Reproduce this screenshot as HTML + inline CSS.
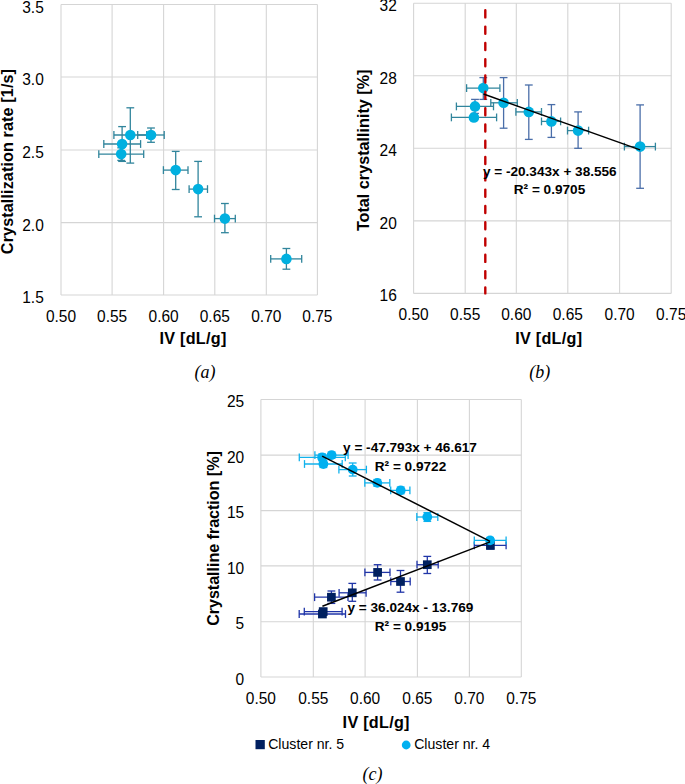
<!DOCTYPE html>
<html><head><meta charset="utf-8"><title>Figure</title>
<style>
html,body{margin:0;padding:0;background:#fff;}
body{width:685px;height:784px;overflow:hidden;font-family:"Liberation Sans", sans-serif;}
svg{display:block;}
</style></head>
<body>
<svg width="685" height="784" viewBox="0 0 685 784">
<rect x="0" y="0" width="685" height="784" fill="#fff"/>
<line x1="61.00" y1="4.50" x2="61.00" y2="295.00" stroke="#d5d5d5" stroke-width="1.1" />
<line x1="112.10" y1="4.50" x2="112.10" y2="295.00" stroke="#d5d5d5" stroke-width="1.1" />
<line x1="163.60" y1="4.50" x2="163.60" y2="295.00" stroke="#d5d5d5" stroke-width="1.1" />
<line x1="214.80" y1="4.50" x2="214.80" y2="295.00" stroke="#d5d5d5" stroke-width="1.1" />
<line x1="266.30" y1="4.50" x2="266.30" y2="295.00" stroke="#d5d5d5" stroke-width="1.1" />
<line x1="317.40" y1="4.50" x2="317.40" y2="295.00" stroke="#d5d5d5" stroke-width="1.1" />
<line x1="61.00" y1="4.50" x2="317.40" y2="4.50" stroke="#d5d5d5" stroke-width="1.1" />
<line x1="61.00" y1="77.00" x2="317.40" y2="77.00" stroke="#d5d5d5" stroke-width="1.1" />
<line x1="61.00" y1="150.00" x2="317.40" y2="150.00" stroke="#d5d5d5" stroke-width="1.1" />
<line x1="61.00" y1="222.60" x2="317.40" y2="222.60" stroke="#d5d5d5" stroke-width="1.1" />
<line x1="61.00" y1="295.00" x2="317.40" y2="295.00" stroke="#d5d5d5" stroke-width="1.1" />
<text transform="translate(43.80,12.50) scale(1,1.06)" x="0" y="0" font-family='"Liberation Sans", sans-serif' font-size="15.5" text-anchor="end">3.5</text>
<text transform="translate(43.80,85.00) scale(1,1.06)" x="0" y="0" font-family='"Liberation Sans", sans-serif' font-size="15.5" text-anchor="end">3.0</text>
<text transform="translate(43.80,158.00) scale(1,1.06)" x="0" y="0" font-family='"Liberation Sans", sans-serif' font-size="15.5" text-anchor="end">2.5</text>
<text transform="translate(43.80,230.60) scale(1,1.06)" x="0" y="0" font-family='"Liberation Sans", sans-serif' font-size="15.5" text-anchor="end">2.0</text>
<text transform="translate(43.80,303.00) scale(1,1.06)" x="0" y="0" font-family='"Liberation Sans", sans-serif' font-size="15.5" text-anchor="end">1.5</text>
<text transform="translate(61.00,321.70) scale(1,1.06)" x="0" y="0" font-family='"Liberation Sans", sans-serif' font-size="15.5" text-anchor="middle">0.50</text>
<text transform="translate(112.10,321.70) scale(1,1.06)" x="0" y="0" font-family='"Liberation Sans", sans-serif' font-size="15.5" text-anchor="middle">0.55</text>
<text transform="translate(163.60,321.70) scale(1,1.06)" x="0" y="0" font-family='"Liberation Sans", sans-serif' font-size="15.5" text-anchor="middle">0.60</text>
<text transform="translate(214.80,321.70) scale(1,1.06)" x="0" y="0" font-family='"Liberation Sans", sans-serif' font-size="15.5" text-anchor="middle">0.65</text>
<text transform="translate(266.30,321.70) scale(1,1.06)" x="0" y="0" font-family='"Liberation Sans", sans-serif' font-size="15.5" text-anchor="middle">0.70</text>
<text transform="translate(317.40,321.70) scale(1,1.06)" x="0" y="0" font-family='"Liberation Sans", sans-serif' font-size="15.5" text-anchor="middle">0.75</text>
<text transform="translate(13.30,161.60) rotate(-90)" x="0.05" y="0" font-family='"Liberation Sans", sans-serif' font-size="16.2" font-weight="bold" text-anchor="middle" letter-spacing="0.1">Crystallization rate [1/s]</text>
<text x="193.00" y="343.50" font-family='"Liberation Sans", sans-serif' font-size="16.2" font-weight="bold" font-style="normal" text-anchor="middle" letter-spacing="0.27">IV [dL/g]</text>
<text x="204.90" y="378.40" font-family='"Liberation Serif", serif' font-size="18" font-weight="normal" font-style="italic" text-anchor="middle" >(a)</text>
<line x1="130.30" y1="107.80" x2="130.30" y2="163.10" stroke="#31859c" stroke-width="1.3" />
<line x1="126.40" y1="107.80" x2="134.20" y2="107.80" stroke="#31859c" stroke-width="1.3" />
<line x1="126.40" y1="163.10" x2="134.20" y2="163.10" stroke="#31859c" stroke-width="1.3" />
<line x1="113.90" y1="135.00" x2="146.70" y2="135.00" stroke="#31859c" stroke-width="1.3" />
<line x1="113.90" y1="131.10" x2="113.90" y2="138.90" stroke="#31859c" stroke-width="1.3" />
<line x1="146.70" y1="131.10" x2="146.70" y2="138.90" stroke="#31859c" stroke-width="1.3" />
<line x1="151.00" y1="128.00" x2="151.00" y2="142.30" stroke="#31859c" stroke-width="1.3" />
<line x1="147.10" y1="128.00" x2="154.90" y2="128.00" stroke="#31859c" stroke-width="1.3" />
<line x1="147.10" y1="142.30" x2="154.90" y2="142.30" stroke="#31859c" stroke-width="1.3" />
<line x1="137.70" y1="135.00" x2="164.20" y2="135.00" stroke="#31859c" stroke-width="1.3" />
<line x1="137.70" y1="131.10" x2="137.70" y2="138.90" stroke="#31859c" stroke-width="1.3" />
<line x1="164.20" y1="131.10" x2="164.20" y2="138.90" stroke="#31859c" stroke-width="1.3" />
<line x1="122.10" y1="126.60" x2="122.10" y2="161.40" stroke="#31859c" stroke-width="1.3" />
<line x1="118.20" y1="126.60" x2="126.00" y2="126.60" stroke="#31859c" stroke-width="1.3" />
<line x1="118.20" y1="161.40" x2="126.00" y2="161.40" stroke="#31859c" stroke-width="1.3" />
<line x1="103.80" y1="144.00" x2="140.60" y2="144.00" stroke="#31859c" stroke-width="1.3" />
<line x1="103.80" y1="140.10" x2="103.80" y2="147.90" stroke="#31859c" stroke-width="1.3" />
<line x1="140.60" y1="140.10" x2="140.60" y2="147.90" stroke="#31859c" stroke-width="1.3" />
<line x1="121.20" y1="147.80" x2="121.20" y2="160.40" stroke="#31859c" stroke-width="1.3" />
<line x1="117.30" y1="147.80" x2="125.10" y2="147.80" stroke="#31859c" stroke-width="1.3" />
<line x1="117.30" y1="160.40" x2="125.10" y2="160.40" stroke="#31859c" stroke-width="1.3" />
<line x1="98.80" y1="154.10" x2="143.70" y2="154.10" stroke="#31859c" stroke-width="1.3" />
<line x1="98.80" y1="150.20" x2="98.80" y2="158.00" stroke="#31859c" stroke-width="1.3" />
<line x1="143.70" y1="150.20" x2="143.70" y2="158.00" stroke="#31859c" stroke-width="1.3" />
<line x1="175.70" y1="151.40" x2="175.70" y2="189.50" stroke="#31859c" stroke-width="1.3" />
<line x1="171.80" y1="151.40" x2="179.60" y2="151.40" stroke="#31859c" stroke-width="1.3" />
<line x1="171.80" y1="189.50" x2="179.60" y2="189.50" stroke="#31859c" stroke-width="1.3" />
<line x1="163.40" y1="170.10" x2="188.00" y2="170.10" stroke="#31859c" stroke-width="1.3" />
<line x1="163.40" y1="166.20" x2="163.40" y2="174.00" stroke="#31859c" stroke-width="1.3" />
<line x1="188.00" y1="166.20" x2="188.00" y2="174.00" stroke="#31859c" stroke-width="1.3" />
<line x1="198.10" y1="161.40" x2="198.10" y2="216.80" stroke="#31859c" stroke-width="1.3" />
<line x1="194.20" y1="161.40" x2="202.00" y2="161.40" stroke="#31859c" stroke-width="1.3" />
<line x1="194.20" y1="216.80" x2="202.00" y2="216.80" stroke="#31859c" stroke-width="1.3" />
<line x1="189.10" y1="189.10" x2="207.50" y2="189.10" stroke="#31859c" stroke-width="1.3" />
<line x1="189.10" y1="185.20" x2="189.10" y2="193.00" stroke="#31859c" stroke-width="1.3" />
<line x1="207.50" y1="185.20" x2="207.50" y2="193.00" stroke="#31859c" stroke-width="1.3" />
<line x1="224.90" y1="203.50" x2="224.90" y2="232.70" stroke="#31859c" stroke-width="1.3" />
<line x1="221.00" y1="203.50" x2="228.80" y2="203.50" stroke="#31859c" stroke-width="1.3" />
<line x1="221.00" y1="232.70" x2="228.80" y2="232.70" stroke="#31859c" stroke-width="1.3" />
<line x1="214.50" y1="218.60" x2="235.30" y2="218.60" stroke="#31859c" stroke-width="1.3" />
<line x1="214.50" y1="214.70" x2="214.50" y2="222.50" stroke="#31859c" stroke-width="1.3" />
<line x1="235.30" y1="214.70" x2="235.30" y2="222.50" stroke="#31859c" stroke-width="1.3" />
<line x1="286.40" y1="248.50" x2="286.40" y2="269.20" stroke="#31859c" stroke-width="1.3" />
<line x1="282.50" y1="248.50" x2="290.30" y2="248.50" stroke="#31859c" stroke-width="1.3" />
<line x1="282.50" y1="269.20" x2="290.30" y2="269.20" stroke="#31859c" stroke-width="1.3" />
<line x1="270.70" y1="258.90" x2="301.70" y2="258.90" stroke="#31859c" stroke-width="1.3" />
<line x1="270.70" y1="255.00" x2="270.70" y2="262.80" stroke="#31859c" stroke-width="1.3" />
<line x1="301.70" y1="255.00" x2="301.70" y2="262.80" stroke="#31859c" stroke-width="1.3" />
<circle cx="130.30" cy="135.00" r="5.3" fill="#00b0e0"/>
<circle cx="151.00" cy="135.00" r="5.3" fill="#00b0e0"/>
<circle cx="122.10" cy="144.00" r="5.3" fill="#00b0e0"/>
<circle cx="121.20" cy="154.10" r="5.3" fill="#00b0e0"/>
<circle cx="175.70" cy="170.10" r="5.3" fill="#00b0e0"/>
<circle cx="198.10" cy="189.10" r="5.3" fill="#00b0e0"/>
<circle cx="224.90" cy="218.60" r="5.3" fill="#00b0e0"/>
<circle cx="286.40" cy="258.90" r="5.3" fill="#00b0e0"/>
<line x1="413.60" y1="3.20" x2="413.60" y2="293.40" stroke="#d5d5d5" stroke-width="1.1" />
<line x1="465.20" y1="3.20" x2="465.20" y2="293.40" stroke="#d5d5d5" stroke-width="1.1" />
<line x1="516.30" y1="3.20" x2="516.30" y2="293.40" stroke="#d5d5d5" stroke-width="1.1" />
<line x1="567.80" y1="3.20" x2="567.80" y2="293.40" stroke="#d5d5d5" stroke-width="1.1" />
<line x1="619.60" y1="3.20" x2="619.60" y2="293.40" stroke="#d5d5d5" stroke-width="1.1" />
<line x1="671.20" y1="3.20" x2="671.20" y2="293.40" stroke="#d5d5d5" stroke-width="1.1" />
<line x1="413.60" y1="3.20" x2="671.20" y2="3.20" stroke="#d5d5d5" stroke-width="1.1" />
<line x1="413.60" y1="75.80" x2="671.20" y2="75.80" stroke="#d5d5d5" stroke-width="1.1" />
<line x1="413.60" y1="148.20" x2="671.20" y2="148.20" stroke="#d5d5d5" stroke-width="1.1" />
<line x1="413.60" y1="220.90" x2="671.20" y2="220.90" stroke="#d5d5d5" stroke-width="1.1" />
<line x1="413.60" y1="293.40" x2="671.20" y2="293.40" stroke="#d5d5d5" stroke-width="1.1" />
<text transform="translate(396.80,11.00) scale(1,1.06)" x="0" y="0" font-family='"Liberation Sans", sans-serif' font-size="15.5" text-anchor="end">32</text>
<text transform="translate(396.80,83.60) scale(1,1.06)" x="0" y="0" font-family='"Liberation Sans", sans-serif' font-size="15.5" text-anchor="end">28</text>
<text transform="translate(396.80,156.00) scale(1,1.06)" x="0" y="0" font-family='"Liberation Sans", sans-serif' font-size="15.5" text-anchor="end">24</text>
<text transform="translate(396.80,228.70) scale(1,1.06)" x="0" y="0" font-family='"Liberation Sans", sans-serif' font-size="15.5" text-anchor="end">20</text>
<text transform="translate(396.80,301.20) scale(1,1.06)" x="0" y="0" font-family='"Liberation Sans", sans-serif' font-size="15.5" text-anchor="end">16</text>
<text transform="translate(413.60,320.20) scale(1,1.06)" x="0" y="0" font-family='"Liberation Sans", sans-serif' font-size="15.5" text-anchor="middle">0.50</text>
<text transform="translate(465.20,320.20) scale(1,1.06)" x="0" y="0" font-family='"Liberation Sans", sans-serif' font-size="15.5" text-anchor="middle">0.55</text>
<text transform="translate(516.30,320.20) scale(1,1.06)" x="0" y="0" font-family='"Liberation Sans", sans-serif' font-size="15.5" text-anchor="middle">0.60</text>
<text transform="translate(567.80,320.20) scale(1,1.06)" x="0" y="0" font-family='"Liberation Sans", sans-serif' font-size="15.5" text-anchor="middle">0.65</text>
<text transform="translate(619.60,320.20) scale(1,1.06)" x="0" y="0" font-family='"Liberation Sans", sans-serif' font-size="15.5" text-anchor="middle">0.70</text>
<text transform="translate(671.20,320.20) scale(1,1.06)" x="0" y="0" font-family='"Liberation Sans", sans-serif' font-size="15.5" text-anchor="middle">0.75</text>
<text transform="translate(368.90,150.30) rotate(-90)" x="0.00" y="0" font-family='"Liberation Sans", sans-serif' font-size="16.2" font-weight="bold" text-anchor="middle" letter-spacing="0">Total crystallinity [%]</text>
<text x="548.75" y="343.60" font-family='"Liberation Sans", sans-serif' font-size="16.2" font-weight="bold" font-style="normal" text-anchor="middle" letter-spacing="0.27">IV [dL/g]</text>
<text x="539.70" y="378.40" font-family='"Liberation Serif", serif' font-size="18" font-weight="normal" font-style="italic" text-anchor="middle" >(b)</text>
<line x1="466.60" y1="88.10" x2="499.90" y2="88.10" stroke="#31859c" stroke-width="1.3" />
<line x1="466.60" y1="84.20" x2="466.60" y2="92.00" stroke="#31859c" stroke-width="1.3" />
<line x1="499.90" y1="84.20" x2="499.90" y2="92.00" stroke="#31859c" stroke-width="1.3" />
<line x1="490.80" y1="102.80" x2="517.30" y2="102.80" stroke="#31859c" stroke-width="1.3" />
<line x1="490.80" y1="98.90" x2="490.80" y2="106.70" stroke="#31859c" stroke-width="1.3" />
<line x1="517.30" y1="98.90" x2="517.30" y2="106.70" stroke="#31859c" stroke-width="1.3" />
<line x1="456.40" y1="106.40" x2="493.50" y2="106.40" stroke="#31859c" stroke-width="1.3" />
<line x1="456.40" y1="102.50" x2="456.40" y2="110.30" stroke="#31859c" stroke-width="1.3" />
<line x1="493.50" y1="102.50" x2="493.50" y2="110.30" stroke="#31859c" stroke-width="1.3" />
<line x1="451.40" y1="117.40" x2="496.60" y2="117.40" stroke="#31859c" stroke-width="1.3" />
<line x1="451.40" y1="113.50" x2="451.40" y2="121.30" stroke="#31859c" stroke-width="1.3" />
<line x1="496.60" y1="113.50" x2="496.60" y2="121.30" stroke="#31859c" stroke-width="1.3" />
<line x1="515.90" y1="111.90" x2="541.50" y2="111.90" stroke="#31859c" stroke-width="1.3" />
<line x1="515.90" y1="108.00" x2="515.90" y2="115.80" stroke="#31859c" stroke-width="1.3" />
<line x1="541.50" y1="108.00" x2="541.50" y2="115.80" stroke="#31859c" stroke-width="1.3" />
<line x1="541.50" y1="121.40" x2="560.60" y2="121.40" stroke="#31859c" stroke-width="1.3" />
<line x1="541.50" y1="117.50" x2="541.50" y2="125.30" stroke="#31859c" stroke-width="1.3" />
<line x1="560.60" y1="117.50" x2="560.60" y2="125.30" stroke="#31859c" stroke-width="1.3" />
<line x1="567.50" y1="130.60" x2="588.60" y2="130.60" stroke="#31859c" stroke-width="1.3" />
<line x1="567.50" y1="126.70" x2="567.50" y2="134.50" stroke="#31859c" stroke-width="1.3" />
<line x1="588.60" y1="126.70" x2="588.60" y2="134.50" stroke="#31859c" stroke-width="1.3" />
<line x1="624.40" y1="146.60" x2="655.40" y2="146.60" stroke="#31859c" stroke-width="1.3" />
<line x1="624.40" y1="142.70" x2="624.40" y2="150.50" stroke="#31859c" stroke-width="1.3" />
<line x1="655.40" y1="142.70" x2="655.40" y2="150.50" stroke="#31859c" stroke-width="1.3" />
<line x1="483.30" y1="77.60" x2="483.30" y2="99.40" stroke="#4a6ea9" stroke-width="1.3" />
<line x1="479.40" y1="77.60" x2="487.20" y2="77.60" stroke="#4a6ea9" stroke-width="1.3" />
<line x1="479.40" y1="99.40" x2="487.20" y2="99.40" stroke="#4a6ea9" stroke-width="1.3" />
<line x1="503.60" y1="77.60" x2="503.60" y2="128.20" stroke="#4a6ea9" stroke-width="1.3" />
<line x1="499.70" y1="77.60" x2="507.50" y2="77.60" stroke="#4a6ea9" stroke-width="1.3" />
<line x1="499.70" y1="128.20" x2="507.50" y2="128.20" stroke="#4a6ea9" stroke-width="1.3" />
<line x1="475.00" y1="99.40" x2="475.00" y2="113.40" stroke="#4a6ea9" stroke-width="1.3" />
<line x1="471.10" y1="99.40" x2="478.90" y2="99.40" stroke="#4a6ea9" stroke-width="1.3" />
<line x1="471.10" y1="113.40" x2="478.90" y2="113.40" stroke="#4a6ea9" stroke-width="1.3" />
<line x1="473.90" y1="114.40" x2="473.90" y2="120.40" stroke="#4a6ea9" stroke-width="1.3" />
<line x1="470.00" y1="114.40" x2="477.80" y2="114.40" stroke="#4a6ea9" stroke-width="1.3" />
<line x1="470.00" y1="120.40" x2="477.80" y2="120.40" stroke="#4a6ea9" stroke-width="1.3" />
<line x1="528.80" y1="85.00" x2="528.80" y2="139.40" stroke="#4a6ea9" stroke-width="1.3" />
<line x1="524.90" y1="85.00" x2="532.70" y2="85.00" stroke="#4a6ea9" stroke-width="1.3" />
<line x1="524.90" y1="139.40" x2="532.70" y2="139.40" stroke="#4a6ea9" stroke-width="1.3" />
<line x1="551.40" y1="104.60" x2="551.40" y2="137.40" stroke="#4a6ea9" stroke-width="1.3" />
<line x1="547.50" y1="104.60" x2="555.30" y2="104.60" stroke="#4a6ea9" stroke-width="1.3" />
<line x1="547.50" y1="137.40" x2="555.30" y2="137.40" stroke="#4a6ea9" stroke-width="1.3" />
<line x1="578.10" y1="111.90" x2="578.10" y2="148.30" stroke="#4a6ea9" stroke-width="1.3" />
<line x1="574.20" y1="111.90" x2="582.00" y2="111.90" stroke="#4a6ea9" stroke-width="1.3" />
<line x1="574.20" y1="148.30" x2="582.00" y2="148.30" stroke="#4a6ea9" stroke-width="1.3" />
<line x1="640.10" y1="104.90" x2="640.10" y2="188.30" stroke="#4a6ea9" stroke-width="1.3" />
<line x1="636.20" y1="104.90" x2="644.00" y2="104.90" stroke="#4a6ea9" stroke-width="1.3" />
<line x1="636.20" y1="188.30" x2="644.00" y2="188.30" stroke="#4a6ea9" stroke-width="1.3" />
<circle cx="483.30" cy="88.10" r="5.3" fill="#00b0e0"/>
<circle cx="503.60" cy="102.80" r="5.3" fill="#00b0e0"/>
<circle cx="475.00" cy="106.40" r="5.3" fill="#00b0e0"/>
<circle cx="473.90" cy="117.40" r="5.3" fill="#00b0e0"/>
<circle cx="528.80" cy="111.90" r="5.3" fill="#00b0e0"/>
<circle cx="551.40" cy="121.40" r="5.3" fill="#00b0e0"/>
<circle cx="578.10" cy="130.60" r="5.3" fill="#00b0e0"/>
<circle cx="640.10" cy="146.60" r="5.3" fill="#00b0e0"/>
<line x1="485.30" y1="10.30" x2="485.30" y2="293.40" stroke="#c00000" stroke-width="2.4" stroke-linecap="round" stroke-dasharray="7.1 9.2"/>
<line x1="483.50" y1="94.00" x2="640.10" y2="149.90" stroke="#000" stroke-width="1.5" />
<text x="549.80" y="175.80" font-family='"Liberation Sans", sans-serif' font-size="13.6" font-weight="bold" font-style="normal" text-anchor="middle" >y = -20.343x + 38.556</text>
<text x="549.50" y="194.40" font-family='"Liberation Sans", sans-serif' font-size="13.6" font-weight="bold" font-style="normal" text-anchor="middle" >R² = 0.9705</text>
<line x1="260.90" y1="399.50" x2="260.90" y2="677.00" stroke="#d5d5d5" stroke-width="1.1" />
<line x1="313.30" y1="399.50" x2="313.30" y2="677.00" stroke="#d5d5d5" stroke-width="1.1" />
<line x1="365.10" y1="399.50" x2="365.10" y2="677.00" stroke="#d5d5d5" stroke-width="1.1" />
<line x1="417.40" y1="399.50" x2="417.40" y2="677.00" stroke="#d5d5d5" stroke-width="1.1" />
<line x1="469.40" y1="399.50" x2="469.40" y2="677.00" stroke="#d5d5d5" stroke-width="1.1" />
<line x1="521.30" y1="399.50" x2="521.30" y2="677.00" stroke="#d5d5d5" stroke-width="1.1" />
<line x1="260.90" y1="399.50" x2="521.30" y2="399.50" stroke="#d5d5d5" stroke-width="1.1" />
<line x1="260.90" y1="455.10" x2="521.30" y2="455.10" stroke="#d5d5d5" stroke-width="1.1" />
<line x1="260.90" y1="510.60" x2="521.30" y2="510.60" stroke="#d5d5d5" stroke-width="1.1" />
<line x1="260.90" y1="565.90" x2="521.30" y2="565.90" stroke="#d5d5d5" stroke-width="1.1" />
<line x1="260.90" y1="621.80" x2="521.30" y2="621.80" stroke="#d5d5d5" stroke-width="1.1" />
<line x1="260.90" y1="677.00" x2="521.30" y2="677.00" stroke="#d5d5d5" stroke-width="1.1" />
<text transform="translate(244.20,407.10) scale(1,1.06)" x="0" y="0" font-family='"Liberation Sans", sans-serif' font-size="15.5" text-anchor="end">25</text>
<text transform="translate(244.20,462.70) scale(1,1.06)" x="0" y="0" font-family='"Liberation Sans", sans-serif' font-size="15.5" text-anchor="end">20</text>
<text transform="translate(244.20,518.20) scale(1,1.06)" x="0" y="0" font-family='"Liberation Sans", sans-serif' font-size="15.5" text-anchor="end">15</text>
<text transform="translate(244.20,573.50) scale(1,1.06)" x="0" y="0" font-family='"Liberation Sans", sans-serif' font-size="15.5" text-anchor="end">10</text>
<text transform="translate(244.20,629.40) scale(1,1.06)" x="0" y="0" font-family='"Liberation Sans", sans-serif' font-size="15.5" text-anchor="end">5</text>
<text transform="translate(244.20,684.60) scale(1,1.06)" x="0" y="0" font-family='"Liberation Sans", sans-serif' font-size="15.5" text-anchor="end">0</text>
<text transform="translate(260.90,703.80) scale(1,1.06)" x="0" y="0" font-family='"Liberation Sans", sans-serif' font-size="15.5" text-anchor="middle">0.50</text>
<text transform="translate(313.30,703.80) scale(1,1.06)" x="0" y="0" font-family='"Liberation Sans", sans-serif' font-size="15.5" text-anchor="middle">0.55</text>
<text transform="translate(365.10,703.80) scale(1,1.06)" x="0" y="0" font-family='"Liberation Sans", sans-serif' font-size="15.5" text-anchor="middle">0.60</text>
<text transform="translate(417.40,703.80) scale(1,1.06)" x="0" y="0" font-family='"Liberation Sans", sans-serif' font-size="15.5" text-anchor="middle">0.65</text>
<text transform="translate(469.40,703.80) scale(1,1.06)" x="0" y="0" font-family='"Liberation Sans", sans-serif' font-size="15.5" text-anchor="middle">0.70</text>
<text transform="translate(521.30,703.80) scale(1,1.06)" x="0" y="0" font-family='"Liberation Sans", sans-serif' font-size="15.5" text-anchor="middle">0.75</text>
<text transform="translate(218.80,538.50) rotate(-90)" x="-0.04" y="0" font-family='"Liberation Sans", sans-serif' font-size="16.2" font-weight="bold" text-anchor="middle" letter-spacing="-0.07">Crystalline fraction [%]</text>
<text x="376.20" y="728.40" font-family='"Liberation Sans", sans-serif' font-size="16.2" font-weight="bold" font-style="normal" text-anchor="middle" letter-spacing="0.27">IV [dL/g]</text>
<text x="372.50" y="779.60" font-family='"Liberation Serif", serif' font-size="18" font-weight="normal" font-style="italic" text-anchor="middle" >(c)</text>
<line x1="331.40" y1="591.00" x2="331.40" y2="603.40" stroke="#2035a8" stroke-width="1.3" />
<line x1="327.50" y1="591.00" x2="335.30" y2="591.00" stroke="#2035a8" stroke-width="1.3" />
<line x1="327.50" y1="603.40" x2="335.30" y2="603.40" stroke="#2035a8" stroke-width="1.3" />
<line x1="314.60" y1="597.20" x2="348.00" y2="597.20" stroke="#2035a8" stroke-width="1.3" />
<line x1="314.60" y1="593.30" x2="314.60" y2="601.10" stroke="#2035a8" stroke-width="1.3" />
<line x1="348.00" y1="593.30" x2="348.00" y2="601.10" stroke="#2035a8" stroke-width="1.3" />
<line x1="352.30" y1="583.40" x2="352.30" y2="601.30" stroke="#2035a8" stroke-width="1.3" />
<line x1="348.40" y1="583.40" x2="356.20" y2="583.40" stroke="#2035a8" stroke-width="1.3" />
<line x1="348.40" y1="601.30" x2="356.20" y2="601.30" stroke="#2035a8" stroke-width="1.3" />
<line x1="339.10" y1="592.80" x2="366.10" y2="592.80" stroke="#2035a8" stroke-width="1.3" />
<line x1="339.10" y1="588.90" x2="339.10" y2="596.70" stroke="#2035a8" stroke-width="1.3" />
<line x1="366.10" y1="588.90" x2="366.10" y2="596.70" stroke="#2035a8" stroke-width="1.3" />
<line x1="322.40" y1="611.00" x2="322.40" y2="617.00" stroke="#2035a8" stroke-width="1.3" />
<line x1="318.50" y1="611.00" x2="326.30" y2="611.00" stroke="#2035a8" stroke-width="1.3" />
<line x1="318.50" y1="617.00" x2="326.30" y2="617.00" stroke="#2035a8" stroke-width="1.3" />
<line x1="299.20" y1="614.00" x2="345.50" y2="614.00" stroke="#2035a8" stroke-width="1.3" />
<line x1="299.20" y1="610.10" x2="299.20" y2="617.90" stroke="#2035a8" stroke-width="1.3" />
<line x1="345.50" y1="610.10" x2="345.50" y2="617.90" stroke="#2035a8" stroke-width="1.3" />
<line x1="323.20" y1="608.50" x2="323.20" y2="614.50" stroke="#2035a8" stroke-width="1.3" />
<line x1="319.30" y1="608.50" x2="327.10" y2="608.50" stroke="#2035a8" stroke-width="1.3" />
<line x1="319.30" y1="614.50" x2="327.10" y2="614.50" stroke="#2035a8" stroke-width="1.3" />
<line x1="304.30" y1="611.60" x2="342.10" y2="611.60" stroke="#2035a8" stroke-width="1.3" />
<line x1="304.30" y1="607.70" x2="304.30" y2="615.50" stroke="#2035a8" stroke-width="1.3" />
<line x1="342.10" y1="607.70" x2="342.10" y2="615.50" stroke="#2035a8" stroke-width="1.3" />
<line x1="377.60" y1="564.70" x2="377.60" y2="580.00" stroke="#2035a8" stroke-width="1.3" />
<line x1="373.70" y1="564.70" x2="381.50" y2="564.70" stroke="#2035a8" stroke-width="1.3" />
<line x1="373.70" y1="580.00" x2="381.50" y2="580.00" stroke="#2035a8" stroke-width="1.3" />
<line x1="364.90" y1="572.40" x2="390.00" y2="572.40" stroke="#2035a8" stroke-width="1.3" />
<line x1="364.90" y1="568.50" x2="364.90" y2="576.30" stroke="#2035a8" stroke-width="1.3" />
<line x1="390.00" y1="568.50" x2="390.00" y2="576.30" stroke="#2035a8" stroke-width="1.3" />
<line x1="400.50" y1="570.50" x2="400.50" y2="592.20" stroke="#2035a8" stroke-width="1.3" />
<line x1="396.60" y1="570.50" x2="404.40" y2="570.50" stroke="#2035a8" stroke-width="1.3" />
<line x1="396.60" y1="592.20" x2="404.40" y2="592.20" stroke="#2035a8" stroke-width="1.3" />
<line x1="390.80" y1="581.50" x2="410.20" y2="581.50" stroke="#2035a8" stroke-width="1.3" />
<line x1="390.80" y1="577.60" x2="390.80" y2="585.40" stroke="#2035a8" stroke-width="1.3" />
<line x1="410.20" y1="577.60" x2="410.20" y2="585.40" stroke="#2035a8" stroke-width="1.3" />
<line x1="427.30" y1="556.40" x2="427.30" y2="573.50" stroke="#2035a8" stroke-width="1.3" />
<line x1="423.40" y1="556.40" x2="431.20" y2="556.40" stroke="#2035a8" stroke-width="1.3" />
<line x1="423.40" y1="573.50" x2="431.20" y2="573.50" stroke="#2035a8" stroke-width="1.3" />
<line x1="417.00" y1="564.70" x2="438.20" y2="564.70" stroke="#2035a8" stroke-width="1.3" />
<line x1="417.00" y1="560.80" x2="417.00" y2="568.60" stroke="#2035a8" stroke-width="1.3" />
<line x1="438.20" y1="560.80" x2="438.20" y2="568.60" stroke="#2035a8" stroke-width="1.3" />
<line x1="490.40" y1="542.00" x2="490.40" y2="549.00" stroke="#2035a8" stroke-width="1.3" />
<line x1="486.50" y1="542.00" x2="494.30" y2="542.00" stroke="#2035a8" stroke-width="1.3" />
<line x1="486.50" y1="549.00" x2="494.30" y2="549.00" stroke="#2035a8" stroke-width="1.3" />
<line x1="474.30" y1="545.40" x2="506.10" y2="545.40" stroke="#2035a8" stroke-width="1.3" />
<line x1="474.30" y1="541.50" x2="474.30" y2="549.30" stroke="#2035a8" stroke-width="1.3" />
<line x1="506.10" y1="541.50" x2="506.10" y2="549.30" stroke="#2035a8" stroke-width="1.3" />
<rect x="327.05" y="592.85" width="8.7" height="8.7" fill="#002060"/>
<rect x="347.95" y="588.45" width="8.7" height="8.7" fill="#002060"/>
<rect x="318.05" y="609.65" width="8.7" height="8.7" fill="#002060"/>
<rect x="318.85" y="607.25" width="8.7" height="8.7" fill="#002060"/>
<rect x="373.25" y="568.05" width="8.7" height="8.7" fill="#002060"/>
<rect x="396.15" y="577.15" width="8.7" height="8.7" fill="#002060"/>
<rect x="422.95" y="560.35" width="8.7" height="8.7" fill="#002060"/>
<rect x="486.05" y="541.05" width="8.7" height="8.7" fill="#002060"/>
<line x1="331.60" y1="452.00" x2="331.60" y2="458.20" stroke="#12b2ec" stroke-width="1.3" />
<line x1="327.70" y1="452.00" x2="335.50" y2="452.00" stroke="#12b2ec" stroke-width="1.3" />
<line x1="327.70" y1="458.20" x2="335.50" y2="458.20" stroke="#12b2ec" stroke-width="1.3" />
<line x1="314.90" y1="455.10" x2="348.10" y2="455.10" stroke="#12b2ec" stroke-width="1.3" />
<line x1="314.90" y1="451.20" x2="314.90" y2="459.00" stroke="#12b2ec" stroke-width="1.3" />
<line x1="348.10" y1="451.20" x2="348.10" y2="459.00" stroke="#12b2ec" stroke-width="1.3" />
<line x1="322.10" y1="454.00" x2="322.10" y2="460.80" stroke="#12b2ec" stroke-width="1.3" />
<line x1="318.20" y1="454.00" x2="326.00" y2="454.00" stroke="#12b2ec" stroke-width="1.3" />
<line x1="318.20" y1="460.80" x2="326.00" y2="460.80" stroke="#12b2ec" stroke-width="1.3" />
<line x1="299.30" y1="457.40" x2="345.30" y2="457.40" stroke="#12b2ec" stroke-width="1.3" />
<line x1="299.30" y1="453.50" x2="299.30" y2="461.30" stroke="#12b2ec" stroke-width="1.3" />
<line x1="345.30" y1="453.50" x2="345.30" y2="461.30" stroke="#12b2ec" stroke-width="1.3" />
<line x1="323.40" y1="460.50" x2="323.40" y2="467.50" stroke="#12b2ec" stroke-width="1.3" />
<line x1="319.50" y1="460.50" x2="327.30" y2="460.50" stroke="#12b2ec" stroke-width="1.3" />
<line x1="319.50" y1="467.50" x2="327.30" y2="467.50" stroke="#12b2ec" stroke-width="1.3" />
<line x1="304.50" y1="464.00" x2="342.20" y2="464.00" stroke="#12b2ec" stroke-width="1.3" />
<line x1="304.50" y1="460.10" x2="304.50" y2="467.90" stroke="#12b2ec" stroke-width="1.3" />
<line x1="342.20" y1="460.10" x2="342.20" y2="467.90" stroke="#12b2ec" stroke-width="1.3" />
<line x1="352.70" y1="463.00" x2="352.70" y2="476.00" stroke="#12b2ec" stroke-width="1.3" />
<line x1="348.80" y1="463.00" x2="356.60" y2="463.00" stroke="#12b2ec" stroke-width="1.3" />
<line x1="348.80" y1="476.00" x2="356.60" y2="476.00" stroke="#12b2ec" stroke-width="1.3" />
<line x1="338.90" y1="469.60" x2="366.40" y2="469.60" stroke="#12b2ec" stroke-width="1.3" />
<line x1="338.90" y1="465.70" x2="338.90" y2="473.50" stroke="#12b2ec" stroke-width="1.3" />
<line x1="366.40" y1="465.70" x2="366.40" y2="473.50" stroke="#12b2ec" stroke-width="1.3" />
<line x1="377.30" y1="479.50" x2="377.30" y2="486.30" stroke="#12b2ec" stroke-width="1.3" />
<line x1="373.40" y1="479.50" x2="381.20" y2="479.50" stroke="#12b2ec" stroke-width="1.3" />
<line x1="373.40" y1="486.30" x2="381.20" y2="486.30" stroke="#12b2ec" stroke-width="1.3" />
<line x1="364.80" y1="482.90" x2="389.80" y2="482.90" stroke="#12b2ec" stroke-width="1.3" />
<line x1="364.80" y1="479.00" x2="364.80" y2="486.80" stroke="#12b2ec" stroke-width="1.3" />
<line x1="389.80" y1="479.00" x2="389.80" y2="486.80" stroke="#12b2ec" stroke-width="1.3" />
<line x1="400.70" y1="487.00" x2="400.70" y2="493.80" stroke="#12b2ec" stroke-width="1.3" />
<line x1="396.80" y1="487.00" x2="404.60" y2="487.00" stroke="#12b2ec" stroke-width="1.3" />
<line x1="396.80" y1="493.80" x2="404.60" y2="493.80" stroke="#12b2ec" stroke-width="1.3" />
<line x1="390.70" y1="490.40" x2="409.90" y2="490.40" stroke="#12b2ec" stroke-width="1.3" />
<line x1="390.70" y1="486.50" x2="390.70" y2="494.30" stroke="#12b2ec" stroke-width="1.3" />
<line x1="409.90" y1="486.50" x2="409.90" y2="494.30" stroke="#12b2ec" stroke-width="1.3" />
<line x1="427.30" y1="512.60" x2="427.30" y2="521.40" stroke="#12b2ec" stroke-width="1.3" />
<line x1="423.40" y1="512.60" x2="431.20" y2="512.60" stroke="#12b2ec" stroke-width="1.3" />
<line x1="423.40" y1="521.40" x2="431.20" y2="521.40" stroke="#12b2ec" stroke-width="1.3" />
<line x1="416.80" y1="517.00" x2="437.80" y2="517.00" stroke="#12b2ec" stroke-width="1.3" />
<line x1="416.80" y1="513.10" x2="416.80" y2="520.90" stroke="#12b2ec" stroke-width="1.3" />
<line x1="437.80" y1="513.10" x2="437.80" y2="520.90" stroke="#12b2ec" stroke-width="1.3" />
<line x1="490.10" y1="537.50" x2="490.10" y2="543.30" stroke="#12b2ec" stroke-width="1.3" />
<line x1="486.20" y1="537.50" x2="494.00" y2="537.50" stroke="#12b2ec" stroke-width="1.3" />
<line x1="486.20" y1="543.30" x2="494.00" y2="543.30" stroke="#12b2ec" stroke-width="1.3" />
<line x1="474.30" y1="540.40" x2="506.10" y2="540.40" stroke="#12b2ec" stroke-width="1.3" />
<line x1="474.30" y1="536.50" x2="474.30" y2="544.30" stroke="#12b2ec" stroke-width="1.3" />
<line x1="506.10" y1="536.50" x2="506.10" y2="544.30" stroke="#12b2ec" stroke-width="1.3" />
<circle cx="331.60" cy="455.10" r="4.9" fill="#00b0f0"/>
<circle cx="322.10" cy="457.40" r="4.9" fill="#00b0f0"/>
<circle cx="323.40" cy="464.00" r="4.9" fill="#00b0f0"/>
<circle cx="352.70" cy="469.60" r="4.9" fill="#00b0f0"/>
<circle cx="377.30" cy="482.90" r="4.9" fill="#00b0f0"/>
<circle cx="400.70" cy="490.40" r="4.9" fill="#00b0f0"/>
<circle cx="427.30" cy="517.00" r="4.9" fill="#00b0f0"/>
<circle cx="490.10" cy="540.40" r="4.9" fill="#00b0f0"/>
<line x1="322.10" y1="456.10" x2="490.10" y2="541.30" stroke="#000" stroke-width="1.5" />
<line x1="322.40" y1="606.20" x2="490.10" y2="541.90" stroke="#000" stroke-width="1.5" />
<text x="409.95" y="452.00" font-family='"Liberation Sans", sans-serif' font-size="13.6" font-weight="bold" font-style="normal" text-anchor="middle" >y = -47.793x + 46.617</text>
<text x="410.50" y="471.10" font-family='"Liberation Sans", sans-serif' font-size="13.6" font-weight="bold" font-style="normal" text-anchor="middle" >R² = 0.9722</text>
<text x="410.40" y="612.00" font-family='"Liberation Sans", sans-serif' font-size="13.6" font-weight="bold" font-style="normal" text-anchor="middle" >y = 36.024x - 13.769</text>
<text x="410.50" y="630.70" font-family='"Liberation Sans", sans-serif' font-size="13.6" font-weight="bold" font-style="normal" text-anchor="middle" >R² = 0.9195</text>
<rect x="255.5" y="740.0" width="9.3" height="9.2" fill="#002060"/>
<text x="268.20" y="748.50" font-family='"Liberation Sans", sans-serif' font-size="14.1" font-weight="normal" font-style="normal" text-anchor="start" >Cluster nr. 5</text>
<circle cx="406.20" cy="745.00" r="4.4" fill="#00b0f0"/>
<text x="414.20" y="748.50" font-family='"Liberation Sans", sans-serif' font-size="14.1" font-weight="normal" font-style="normal" text-anchor="start" >Cluster nr. 4</text>
</svg>
</body></html>
